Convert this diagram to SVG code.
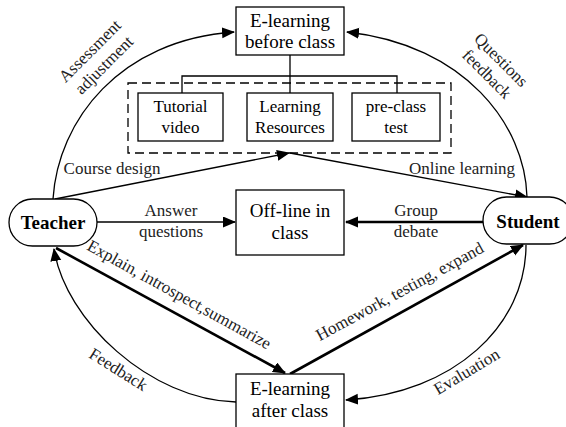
<svg xmlns="http://www.w3.org/2000/svg" width="566" height="427" viewBox="0 0 566 427">
<defs>
<style>
text{font-family:"Liberation Serif","Times New Roman",serif;fill:#000;}
.bt{font-size:19px;text-anchor:middle;}
.st{font-size:17px;text-anchor:middle;}
.lb{font-size:17px;text-anchor:middle;fill:#222;}
.nd{font-size:19px;font-weight:bold;text-anchor:middle;}
.box{fill:#fff;stroke:#000;stroke-width:1.3;}
.ln{fill:none;stroke:#000;stroke-width:1.3;}
.tk{fill:none;stroke:#000;stroke-width:2.6;}
.ds{fill:none;stroke:#000;stroke-width:1.3;stroke-dasharray:9,5;}
</style>
<marker id="ah" markerUnits="userSpaceOnUse" markerWidth="14" markerHeight="12" refX="12" refY="5.5" orient="auto">
<path d="M0,0 L13,5.5 L0,11 z" fill="#000"/>
</marker>
</defs>
<rect width="566" height="427" fill="#fff"/>

<g id="connectors">
<path class="ln" d="M290,55 V93 M182,93 V76 H397 V93"/>
<path class="ln" d="M53,199 C58,120 120,40 234,32" marker-end="url(#ah)"/>
<path class="ln" d="M527,197 C525,125 465,45 347,32" marker-end="url(#ah)"/>
<path class="ln" d="M55,199 L289,153" marker-end="url(#ah)"/>
<path class="ln" d="M290,153 L527,197" marker-end="url(#ah)"/>
<path class="ln" d="M97,222 L235,222" marker-end="url(#ah)"/>
<path class="tk" d="M483,222 L346,222" marker-end="url(#ah)"/>
<path class="tk" d="M56,248 L285,373" marker-end="url(#ah)"/>
<path class="tk" d="M290,374 L523,245" marker-end="url(#ah)"/>
<path class="ln" d="M236,402 C150,400 65,320 54,249" marker-end="url(#ah)"/>
<path class="ln" d="M526,245 C526,325 455,393 346,400" marker-end="url(#ah)"/>
</g>

<g id="labels">
<g transform="translate(97,58) rotate(-45)">
<text class="lb" x="0" y="-4.5">Assessment</text>
<text class="lb" x="0" y="15.5">adjustment</text>
</g>
<g transform="translate(494,67) rotate(45)">
<text class="lb" x="0" y="-4.5">Questions</text>
<text class="lb" x="0" y="15.5">feedback</text>
</g>
<text class="lb" x="112" y="174">Course design</text>
<text class="lb" x="462" y="174">Online learning</text>
<text class="lb" x="171" y="216">Answer</text>
<text class="lb" x="171" y="237">questions</text>
<text class="lb" x="416" y="216">Group</text>
<text class="lb" x="416" y="237">debate</text>
<text class="lb" transform="translate(179,295) rotate(29)" x="0" y="5">Explain, introspect,summarize</text>
<text class="lb" transform="translate(400,292) rotate(-28.5)" x="0" y="5">Homework, testing, expand</text>
<text class="lb" transform="translate(118,370) rotate(32)" x="0" y="5">Feedback</text>
<text class="lb" transform="translate(467,372) rotate(-31)" x="0" y="5">Evaluation</text>
</g>

<g id="before">
<rect class="box" x="236" y="7" width="108" height="48"/>
<text class="bt" x="290" y="27">E-learning</text>
<text class="bt" x="290" y="48">before class</text>
</g>
<g id="online-group">
<rect class="ds" x="128" y="83" width="323" height="70"/>
</g>
<g id="tutorial">
<rect class="box" x="138" y="93" width="85" height="48"/>
<text class="st" x="180.5" y="112">Tutorial</text>
<text class="st" x="180.5" y="133">video</text>
</g>
<g id="resources">
<rect class="box" x="247" y="93" width="86" height="48"/>
<text class="st" x="290" y="112">Learning</text>
<text class="st" x="290" y="133">Resources</text>
</g>
<g id="preclass">
<rect class="box" x="352" y="93" width="88" height="48"/>
<text class="st" x="396" y="112">pre-class</text>
<text class="st" x="396" y="133">test</text>
</g>
<g id="offline">
<rect class="box" x="236" y="190" width="108" height="65"/>
<text class="bt" x="290" y="217">Off-line in</text>
<text class="bt" x="290" y="239">class</text>
</g>
<g id="after">
<rect class="box" x="236" y="374" width="108" height="60"/>
<text class="bt" x="290" y="395">E-learning</text>
<text class="bt" x="290" y="417">after class</text>
</g>
<g id="teacher">
<rect class="box" x="9" y="199" width="88" height="47" rx="23.5"/>
<text class="nd" x="53" y="229">Teacher</text>
</g>
<g id="student">
<rect class="box" x="483" y="197" width="90" height="47" rx="23.5"/>
<text class="nd" x="528" y="228">Student</text>
</g>
</svg>
